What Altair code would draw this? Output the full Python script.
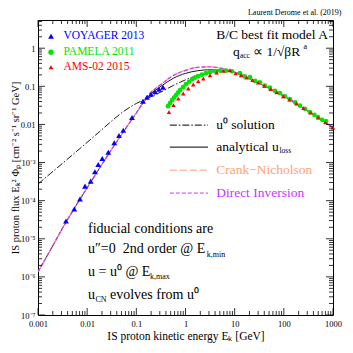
import altair as alt
import pandas as pd

# ---------------- data ----------------
X_TICKS = [0.001, 0.01, 0.1, 1, 10, 100, 1000]
X_LABELS = ["0.001", "0.01", "0.1", "1", "10", "100", "1000"]
Y_TICKS = [1e-7, 1e-6, 1e-5, 1e-4, 1e-3, 0.01, 0.1, 1]
Y_LABELS = ["10⁻⁷", "10⁻⁶", "10⁻⁵", "10⁻⁴", "10⁻³", "0.01", "0.1", "1"]

MODEL_E = [0.001, 0.00178, 0.00316, 0.00562, 0.01, 0.0178, 0.0316, 0.0562, 0.1,
           0.178, 0.316, 0.562, 1, 1.78, 3.16, 5.62, 10, 17.8, 31.6, 56.2, 100,
           178, 316, 562, 1000]
CN_F = [1.35e-6, 5.01e-6, 1.91e-5, 6.61e-5, 2.19e-4, 7.08e-4, 2.24e-3, 6.76e-3, 0.0200,
        0.0603, 0.112, 0.191, 0.263, 0.316, 0.324, 0.295, 0.234, 0.170, 0.120, 0.0832,
        0.0556, 0.0357, 0.0220, 0.0136, 0.00824]
DI_F = [1.35e-6, 5.01e-6, 1.91e-5, 6.61e-5, 2.19e-4, 7.08e-4, 2.24e-3, 6.76e-3, 0.0200,
        0.0603, 0.112, 0.191, 0.263, 0.316, 0.324, 0.295, 0.234, 0.170, 0.120, 0.0832,
        0.0556, 0.0357, 0.0220, 0.0136, 0.00824]
ULOSS_F = [1.35e-6, 5.01e-6, 1.91e-5, 6.61e-5, 2.19e-4, 7.08e-4, 2.24e-3, 6.76e-3, 0.0200,
           0.0562, 0.100, 0.162, 0.219, 0.257, 0.272, 0.266, 0.229, 0.170, 0.120, 0.0832,
           0.0556, 0.0357, 0.0220, 0.0136, 0.00824]
U0_F = [2.72e-4, 5.13e-4, 9.55e-4, 1.80e-3, 3.39e-3, 6.46e-3, 0.0123, 0.0224, 0.0355,
        0.0501, 0.0708, 0.105, 0.148, 0.195, 0.234, 0.257, 0.237, 0.174, 0.120, 0.0832,
        0.0556, 0.0357, 0.0220, 0.0136, 0.00824]

VOY_E = [0.00371, 0.00547, 0.00714, 0.00904, 0.0118, 0.0144, 0.0168, 0.0203, 0.0269,
         0.0356, 0.0444, 0.0543, 0.0817, 0.136, 0.165, 0.199, 0.240, 0.289, 0.348]
VOY_F = [2.91e-5, 6.01e-5, 1.10e-4, 2.41e-4, 3.26e-4, 5.71e-4, 8.93e-4, 1.28e-3, 1.87e-3,
         3.29e-3, 5.14e-3, 7.08e-3, 0.0152, 0.0407, 0.0519, 0.0622, 0.0723, 0.0841, 0.0948]

PAM_E = [0.44, 0.484, 0.531, 0.583, 0.641, 0.703, 0.773, 0.889, 1.02, 1.18, 1.36, 1.56,
         1.80, 2.16, 2.61, 3.15, 3.98, 5.03, 6.66, 8.83, 12.8, 16, 20.5, 26, 32.7, 41,
         52.2, 66, 83.6, 105, 133, 170, 213, 270, 341, 420, 495, 600, 720]
PAM_F = [0.0301, 0.0361, 0.0433, 0.0504, 0.0586, 0.0681, 0.0792, 0.0949, 0.114, 0.132,
         0.154, 0.169, 0.185, 0.202, 0.221, 0.235, 0.249, 0.257, 0.257, 0.249, 0.221,
         0.182, 0.174, 0.139, 0.128, 0.104, 0.0921, 0.0762, 0.0661, 0.0548, 0.0460,
         0.0380, 0.0311, 0.0257, 0.0210, 0.0178, 0.0155, 0.0132, 0.0122]

AMS_E = [0.461, 0.570, 0.713, 0.902, 1.14, 1.44, 1.82, 2.30, 3.15, 4.31, 5.89, 8.04,
         10.5, 13.5, 17.5, 23, 30, 40, 54, 72, 97, 130, 180, 250, 350, 500, 700, 1000]
AMS_F = [0.0210, 0.0321, 0.0474, 0.0649, 0.0877, 0.112, 0.136, 0.161, 0.196, 0.231,
         0.254, 0.265, 0.219, 0.195, 0.170, 0.146, 0.126, 0.1035, 0.0851, 0.0700,
         0.0550, 0.0452, 0.0355, 0.0269, 0.0204, 0.0151, 0.01135, 0.0083]

# ---------------- layout / style ----------------
W = H = 295
FONT = "Liberation Serif"
C_VOY, C_PAM, C_AMS = "#0000ff", "#00e600", "#ff0000"
C_CN, C_DI = "#ffa07a", "#cc33ff"

xs = alt.Scale(type="log", domain=[1e-3, 1e3], nice=False)
ys = alt.Scale(type="log", domain=[1e-7, 5.5], nice=False)

x_lab = "[" + ",".join(f"'{s}'" for s in X_LABELS) + "]"
y_lab = "[" + ",".join(f"'{s}'" for s in Y_LABELS) + "]"

xaxis = alt.Axis(values=X_TICKS, labelExpr=f"{x_lab}[round(log(datum.value)/LN10)+3]",
                 ticks=False, domain=False, grid=False, labelFont=FONT, labelFontSize=8.5,
                 labelColor="black", labelPadding=4.5, labelFlush=False,
                 title="IS proton kinetic energy Eₖ  [GeV]", titleFont=FONT,
                 titleFontSize=11.5, titleFontWeight="normal", titleColor="black",
                 titlePadding=2)
yaxis = alt.Axis(values=Y_TICKS, labelExpr=f"{y_lab}[round(log(datum.value)/LN10)+7]",
                 ticks=False, domain=False, grid=False, labelFont=FONT, labelFontSize=8.5,
                 labelColor="black", labelPadding=3, labelFlush=False,
                 title="IS proton flux Eₖ² Φₚ [cm⁻² s⁻¹ sr⁻¹ GeV]", titleFont=FONT,
                 titleFontSize=10.5, titleFontWeight="normal", titleColor="black",
                 titlePadding=0)

X = alt.X("E:Q", scale=xs, axis=xaxis)
Y = alt.Y("F:Q", scale=ys, axis=yaxis)


def line(vals, color, dash=None, width=1.0):
    df = pd.DataFrame({"E": MODEL_E, "F": vals})
    kw = dict(color=color, strokeWidth=width, interpolate="monotone", clip=True)
    if dash:
        kw["strokeDash"] = dash
    return alt.Chart(df).mark_line(**kw).encode(x=X, y=Y)


layers = []
layers.append(line(U0_F, "black", [7, 2, 1.5, 2], 0.9))
layers.append(line(ULOSS_F, "black", None, 0.9))
layers.append(line(CN_F, C_CN, [7, 3], 1.2))
layers.append(line(DI_F, C_DI, [4, 2], 1.2))

layers.append(alt.Chart(pd.DataFrame({"E": PAM_E, "F": PAM_F})).mark_point(
    shape="circle", filled=True, size=22, color=C_PAM, opacity=1).encode(x=X, y=Y))
layers.append(alt.Chart(pd.DataFrame({"E": AMS_E, "F": AMS_F})).mark_point(
    shape="triangle-up", filled=True, size=20, color=C_AMS, opacity=1).encode(x=X, y=Y))
layers.append(alt.Chart(pd.DataFrame({"E": VOY_E, "F": VOY_F})).mark_point(
    shape="triangle-up", filled=True, size=34, color=C_VOY, opacity=1).encode(x=X, y=Y))

# ---------------- inward ticks on all four sides ----------------
x_major = X_TICKS
x_minor = [m * d for d in [0.001, 0.01, 0.1, 1, 10, 100] for m in range(2, 10)]
y_major = Y_TICKS
y_minor = [m * d for d in [1e-7, 1e-6, 1e-5, 1e-4, 1e-3, 0.01, 0.1, 1] for m in range(2, 10)
           if m * d <= 5.5]


def xticks(vals, L):
    df = pd.DataFrame({"E": vals})
    return [alt.Chart(df).mark_rule(color="black", strokeWidth=0.8).encode(
                x=X, y=alt.value(H), y2=alt.value(H - L)),
            alt.Chart(df).mark_rule(color="black", strokeWidth=0.8).encode(
                x=X, y=alt.value(0), y2=alt.value(L))]


def yticks(vals, L):
    df = pd.DataFrame({"F": vals})
    return [alt.Chart(df).mark_rule(color="black", strokeWidth=0.8).encode(
                y=Y, x=alt.value(0), x2=alt.value(L)),
            alt.Chart(df).mark_rule(color="black", strokeWidth=0.8).encode(
                y=Y, x=alt.value(W), x2=alt.value(W - L))]


layers += xticks(x_major, 7) + xticks(x_minor, 4) + yticks(y_major, 7) + yticks(y_minor, 4)


# ---------------- annotations ----------------
def text(E, F, s, size, color="black", align="left", baseline="middle"):
    df = pd.DataFrame({"E": [E], "F": [F], "t": [s]})
    return alt.Chart(df).mark_text(font=FONT, fontSize=size, color=color, align=align,
                                   baseline=baseline).encode(x=X, y=Y, text="t:N")


# data legend (top left)
LEG_MARK_E = 0.00184
LEG_TEXT_E = 0.0033
LEG_F = [2.06, 0.785, 0.318]
layers.append(alt.Chart(pd.DataFrame({"E": [LEG_MARK_E], "F": [LEG_F[0]]})).mark_point(
    shape="triangle-up", filled=True, size=34, color=C_VOY, opacity=1).encode(x=X, y=Y))
layers.append(alt.Chart(pd.DataFrame({"E": [LEG_MARK_E], "F": [LEG_F[1]]})).mark_point(
    shape="circle", filled=True, size=30, color=C_PAM, opacity=1).encode(x=X, y=Y))
layers.append(alt.Chart(pd.DataFrame({"E": [LEG_MARK_E], "F": [LEG_F[2]]})).mark_point(
    shape="triangle-up", filled=True, size=22, color=C_AMS, opacity=1).encode(x=X, y=Y))
layers.append(text(LEG_TEXT_E, LEG_F[0], "VOYAGER 2013", 11.5, C_VOY))
layers.append(text(LEG_TEXT_E, LEG_F[1], "PAMELA 2011", 11.5, C_PAM))
layers.append(text(LEG_TEXT_E, LEG_F[2], "AMS-02 2015", 11.5, C_AMS))

# model text (top right)
layers.append(text(791, 2.19, "B/C best fit model A", 13.5, align="right"))
layers.append(text(9.25, 0.786, "q", 13.5))
layers.append(text(12.8, 0.617, "acc", 7.5))
layers.append(text(23.6, 0.786, "∝ 1/√βR", 13.5))
layers.append(text(250, 1.1, "a", 8))

# line legend (middle right)
LL_E1, LL_E2, LL_TE = 0.48, 2.87, 4.2
LL_F = [0.0096, 0.00254, 6.3e-4, 1.58e-4]
for F, col, dash in [(LL_F[0], "black", [7, 2, 1.5, 2]), (LL_F[1], "black", None),
                     (LL_F[2], C_CN, [7, 3]), (LL_F[3], C_DI, [4, 2])]:
    kw = dict(color=col, strokeWidth=1.0)
    if dash:
        kw["strokeDash"] = dash
    layers.append(alt.Chart(pd.DataFrame({"E": [LL_E1], "E2": [LL_E2], "F": [F]})).mark_rule(
        **kw).encode(x=X, x2="E2:Q", y=Y))
layers.append(text(LL_TE, LL_F[0], "u⁰ solution", 13.5))
layers.append(text(LL_TE, LL_F[1], "analytical u", 13.5))
layers.append(text(81.7, 0.0020, "loss", 7.5))
layers.append(text(LL_TE, LL_F[2], "Crank−Nicholson", 13.5, C_CN))
layers.append(text(LL_TE, LL_F[3], "Direct Inversion", 13.5, C_DI))

# fiducial conditions (bottom left)
FC_E = 0.0104
layers.append(text(FC_E, 1.8e-5, "fiducial conditions are", 14))
layers.append(text(FC_E, 5.37e-6, "u″=0\u00a0\u00a02nd order @ E", 14))
layers.append(text(2.7, 3.74e-6, "k,min", 8))
layers.append(text(FC_E, 1.34e-6, "u = u⁰ @ E", 14))
layers.append(text(0.19, 9.9e-7, "k,max", 8))
layers.append(text(FC_E, 3.34e-7, "u", 14))
layers.append(text(0.01476, 2.47e-7, "CN", 8))
layers.append(text(0.0291, 3.34e-7, "evolves from u⁰", 14))

chart = alt.layer(*layers).properties(
    width=W, height=H,
    title=alt.TitleParams("Laurent Derome et al. (2019)", anchor="end", fontSize=8,
                          font=FONT, fontWeight="normal", offset=3, color="black"),
    autosize=alt.AutoSizeParams(type="none"),
    padding={"left": 30, "top": 12, "right": 12, "bottom": 30},
).configure_view(stroke="black", strokeWidth=1)

chart.save("out.html", embed_options={"renderer": "svg", "actions": False})
